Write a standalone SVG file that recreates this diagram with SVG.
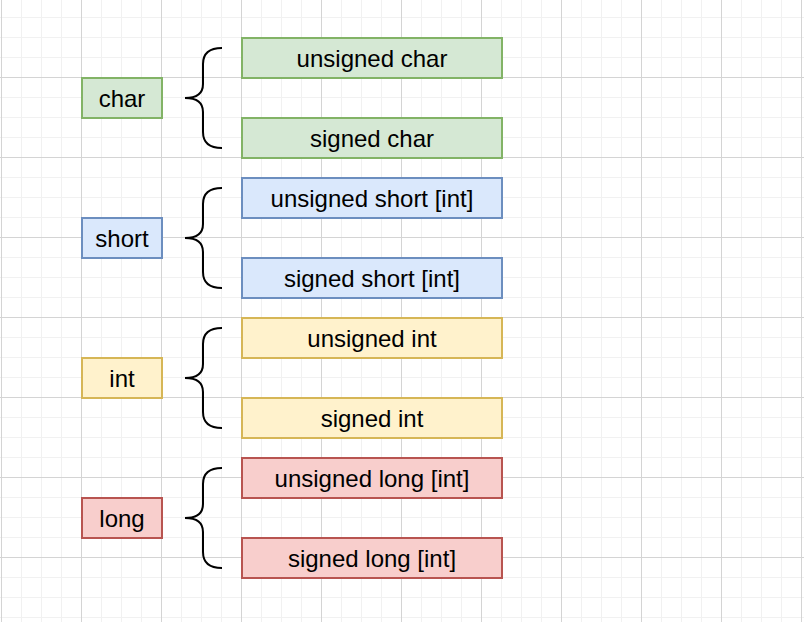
<svg xmlns="http://www.w3.org/2000/svg" width="804" height="622" viewBox="0 0 804 622">
<defs>
<pattern id="minor" x="1" y="-3" width="20" height="20" patternUnits="userSpaceOnUse">
<path d="M0,0.5 H20 M0.5,0 V20" stroke="#f1f1f1" stroke-width="1" fill="none"/>
</pattern>
<pattern id="major" x="1" y="-3" width="80" height="80" patternUnits="userSpaceOnUse">
<path d="M0,0.5 H80 M0.5,0 V80" stroke="#d4d4d4" stroke-width="1" fill="none"/>
</pattern>
</defs>
<style>
rect.n{stroke-width:2}
.g rect{fill:#d5e8d4;stroke:#82b366}
.b rect{fill:#dae8fc;stroke:#6c8ebf}
.y rect{fill:#fff2cc;stroke:#d6b656}
.r rect{fill:#f8cecc;stroke:#b85450}
text{font-family:"Liberation Sans",Arial,sans-serif;font-size:24px;fill:#000;text-anchor:middle;dominant-baseline:central}
.brace{fill:none;stroke:#000;stroke-width:2}
</style>
<rect width="804" height="622" fill="#fff"/>
<rect width="804" height="622" fill="url(#minor)"/>
<rect width="804" height="622" fill="url(#major)"/>
<g id="char" class="g"><rect class="n" x="82" y="78" width="80" height="40"/><text x="122" y="98">char</text></g>
<g id="unsigned-char" class="g"><rect class="n" x="242" y="38" width="260" height="40"/><text x="372" y="58">unsigned char</text></g>
<g id="signed-char" class="g"><rect class="n" x="242" y="118" width="260" height="40"/><text x="372" y="138">signed char</text></g>
<g id="short" class="b"><rect class="n" x="82" y="218" width="80" height="40"/><text x="122" y="238">short</text></g>
<g id="unsigned-short" class="b"><rect class="n" x="242" y="178" width="260" height="40"/><text x="372" y="198">unsigned short [int]</text></g>
<g id="signed-short" class="b"><rect class="n" x="242" y="258" width="260" height="40"/><text x="372" y="278">signed short [int]</text></g>
<g id="int" class="y"><rect class="n" x="82" y="358" width="80" height="40"/><text x="122" y="378">int</text></g>
<g id="unsigned-int" class="y"><rect class="n" x="242" y="318" width="260" height="40"/><text x="372" y="338">unsigned int</text></g>
<g id="signed-int" class="y"><rect class="n" x="242" y="398" width="260" height="40"/><text x="372" y="418">signed int</text></g>
<g id="long" class="r"><rect class="n" x="82" y="498" width="80" height="40"/><text x="122" y="518">long</text></g>
<g id="unsigned-long" class="r"><rect class="n" x="242" y="458" width="260" height="40"/><text x="372" y="478">unsigned long [int]</text></g>
<g id="signed-long" class="r"><rect class="n" x="242" y="538" width="260" height="40"/><text x="372" y="558">signed long [int]</text></g>
<g id="connectors">
<path class="brace" d="M222,48 Q203,48 203,64 L203,84 Q203,98 185,98 Q203,98 203,112 L203,132 Q203,148 222,148"/>
<path class="brace" d="M222,188 Q203,188 203,204 L203,224 Q203,238 185,238 Q203,238 203,252 L203,272 Q203,288 222,288"/>
<path class="brace" d="M222,328 Q203,328 203,344 L203,364 Q203,378 185,378 Q203,378 203,392 L203,412 Q203,428 222,428"/>
<path class="brace" d="M222,468 Q203,468 203,484 L203,504 Q203,518 185,518 Q203,518 203,532 L203,552 Q203,568 222,568"/>
</g>
</svg>
